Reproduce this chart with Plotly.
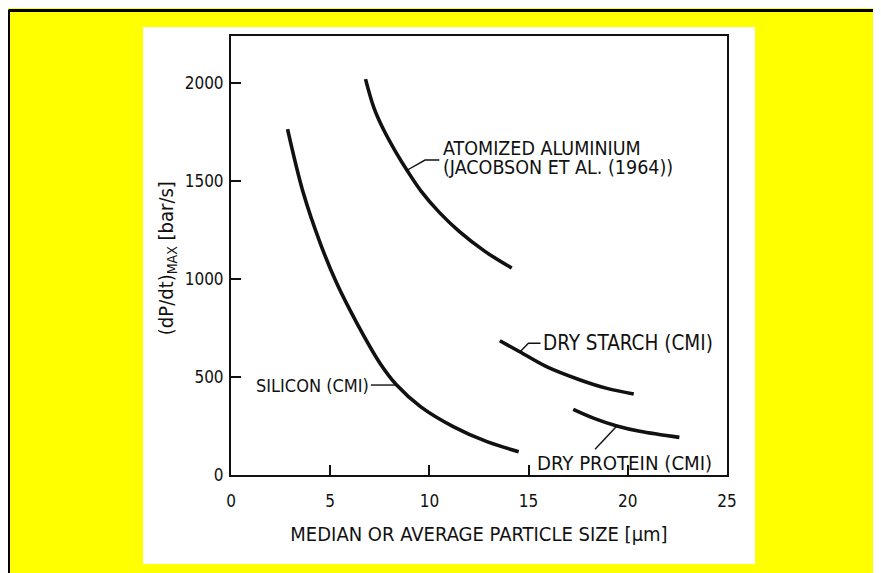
import plotly.graph_objects as go

# ---- data ----
silicon_x = [2.85, 3.65, 4.5, 5.33, 6.35, 7.5, 8.35, 9.55, 11.2, 12.9, 14.5]
silicon_y = [1765, 1437, 1182, 978, 774, 572, 459, 349, 247, 170, 119]

aluminium_x = [6.78, 7.2, 7.7, 8.3, 8.87, 9.6, 10.5, 11.5, 12.8, 14.15]
aluminium_y = [2020, 1875, 1760, 1649, 1555, 1446, 1340, 1243, 1141, 1056]

starch_x = [13.55, 14.55, 15.9, 17.6, 18.95, 20.3]
starch_y = [685, 629, 553, 485, 442, 413]

protein_x = [17.25, 18.3, 19.45, 20.6, 22.6]
protein_y = [335, 289, 250, 223, 192]

x_ticks = [0, 5, 10, 15, 20, 25]
y_ticks = [0, 500, 1000, 1500, 2000]

FONT = "DejaVu Sans Condensed, Liberation Sans Narrow, Arial Narrow, sans-serif"
INK = "#111111"

fig = go.Figure()
for xs, ys in [(silicon_x, silicon_y), (aluminium_x, aluminium_y),
               (starch_x, starch_y), (protein_x, protein_y)]:
    fig.add_trace(go.Scatter(x=xs, y=ys, mode="lines",
                             line=dict(color=INK, width=3.6, shape="spline"),
                             showlegend=False, hoverinfo="skip"))

# leader lines
leaders = [
    [(8.87, 1555), (9.78, 1607), (10.5, 1607)],
    [(7.05, 459), (8.35, 459)],
    [(14.57, 629), (14.99, 672), (15.6, 672)],
    [(19.45, 250), (18.35, 131)],
]
for pts in leaders:
    path = "M " + " L ".join(f"{x},{y}" for x, y in pts)
    fig.add_shape(type="path", path=path, xref="x", yref="y",
                  line=dict(color=INK, width=1.4))

# background panels
fig.add_shape(type="rect", xref="paper", yref="paper",
              x0=-0.1774, x1=1.0565, y0=-0.2027, y1=1.0205,
              fillcolor="white", line=dict(width=0), layer="below")
fig.add_shape(type="line", xref="paper", yref="paper",
              x0=-0.4486, x1=1.32, y0=1.0580, y1=1.0580,
              line=dict(color="black", width=3))
fig.add_shape(type="line", xref="paper", yref="paper",
              x0=-0.4486, x1=-0.4486, y0=-0.24, y1=1.0592,
              line=dict(color="black", width=3))

annotations = [
    dict(x=10.58, y=1666, text="ATOMIZED ALUMINIUM", xanchor="left", size=19.5),
    dict(x=10.58, y=1571, text="(JACOBSON ET AL. (1964))", xanchor="left", size=19.5),
    dict(x=7.05, y=459, text="SILICON (CMI)", xanchor="right", size=18),
    dict(x=15.63, y=673, text="DRY STARCH (CMI)", xanchor="left", size=20.5),
    dict(x=15.3, y=61, text="DRY PROTEIN (CMI)", xanchor="left", size=20.2),
]
for a in annotations:
    size = a.pop("size")
    fig.add_annotation(xref="x", yref="y", yanchor="middle", showarrow=False,
                       font=dict(family=FONT, size=size, color=INK), **a)

# y-axis title placed as a rotated annotation
fig.add_annotation(xref="paper", yref="paper", x=-0.129, y=0.494,
                   xanchor="center", yanchor="middle", textangle=-90,
                   showarrow=False, text="(dP/dt)<sub>MAX</sub> [bar/s]",
                   font=dict(family=FONT, size=20, color=INK))

axis_common = dict(showgrid=False, zeroline=False, showline=True, linecolor=INK,
                   linewidth=2, mirror=True, ticks="inside", ticklen=10,
                   tickwidth=2, tickcolor=INK,
                   tickfont=dict(family=FONT, size=17, color=INK))

fig.update_xaxes(range=[0, 25], tickvals=x_ticks, ticklabelstandoff=10,
                 title=dict(text="MEDIAN OR AVERAGE PARTICLE SIZE [μm]",
                            font=dict(family=FONT, size=20, color=INK), standoff=17),
                 **axis_common)
fig.update_yaxes(range=[0, 2240], tickvals=y_ticks, ticklabelstandoff=2,
                 **axis_common)

fig.update_layout(width=873, height=565,
                  margin=dict(l=223, r=154, t=28, b=98),
                  paper_bgcolor="#FFFF00", plot_bgcolor="white",
                  showlegend=False)

fig.write_html("out.html")
